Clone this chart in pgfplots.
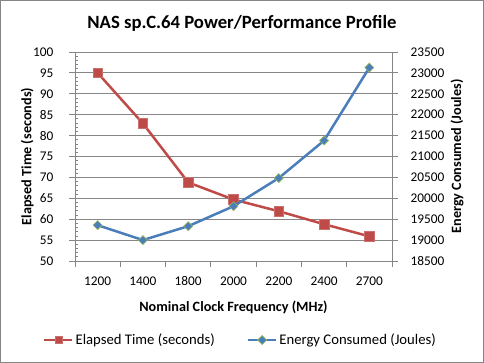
\documentclass[border=0pt]{standalone}
\usepackage{fontspec}
\setmainfont{Carlito}
\usepackage{pgfplots}
\pgfplotsset{compat=1.18}
\definecolor{axgray}{HTML}{868686}
\definecolor{cred}{HTML}{BE4B48}
\definecolor{cblue}{HTML}{4A7EBB}
\definecolor{cgreen}{HTML}{9BBB59}
\newcommand{\tsz}{\fontsize{13.3}{16}\selectfont}
\newcommand{\lsz}{\fontsize{14.2}{17}\selectfont\bfseries}
\pgfplotsset{
 common/.style={
  scale only axis, width=317pt, height=209pt, at={(75pt,102pt)}, anchor=south west,
  xmin=-0.5, xmax=6.5,
  tick align=outside, major tick length=6pt, minor tick length=3pt,
  every tick/.style={axgray, line width=0.8pt},
  axis line style={axgray, line width=0.8pt},
  tick label style={font=\tsz, text=black},
  /pgf/number format/assume math mode=true,
  /pgf/number format/set thousands separator={},
  scaled y ticks=false,
  clip=false,
 },
}
\begin{document}
\begin{tikzpicture}
\useasboundingbox (0pt,0pt) rectangle (484pt,363pt);
\draw[axgray, line width=0.8pt] (0.5pt,0.5pt) rectangle (483.5pt,362.5pt);
\node[font=\fontsize{18.7}{22}\selectfont\bfseries] at (242pt,340pt) {NAS sp.C.64 Power/Performance Profile};
\begin{axis}[common,
  axis x line*=bottom, axis y line*=left,
  ymin=50, ymax=100, ytick={50,55,...,100}, minor y tick num=4,
  minor y tick style={xshift=3pt},
  ymajorgrids, major grid style={axgray, line width=0.8pt},
  xtick={-0.5,0.5,...,6.5},
  xticklabels={1200,1400,1800,2000,2200,2400,2700,{}},
  xticklabel style={xshift=22.64pt, yshift=-6pt},
  yticklabel style={xshift=-12pt},
  xlabel={Nominal Clock Frequency (MHz)},
  ylabel={Elapsed Time (seconds)},
  xlabel style={at={(axis description cs:0.5,-0.22)}, anchor=center, font=\lsz},
  ylabel style={at={(axis description cs:-0.151,0.5)}, anchor=center, font=\lsz},
]
\addplot[cred, line width=2.5pt, mark=square*, mark size=4.8pt,
  mark options={fill=cred, draw=cred!80!white, line width=0.5pt}]
  coordinates {(0,95) (1,82.9) (2,68.8) (3,64.7) (4,61.9) (5,58.8) (6,55.9)};
\end{axis}
\begin{axis}[common,
  axis x line=none, axis y line*=right,
  ymin=18500, ymax=23500, ytick={18500,19000,...,23500},
  yticklabel style={xshift=9pt},
  ylabel={Energy Consumed (Joules)},
  ylabel style={at={(axis description cs:1.205,0.5)}, anchor=center, font=\lsz},
  legend style={at={(0.522,-0.378)}, anchor=center, draw=none, fill=none,
    legend columns=2, font=\fontsize{14.7}{17}\selectfont, legend cell align=left,
    /tikz/every even column/.append style={column sep=30pt}},
  legend image code/.code={\draw[#1, mark repeat=2, mark phase=2] plot coordinates {(0pt,0pt) (14pt,0pt) (28pt,0pt)};},
]
\addlegendimage{cred, line width=2.5pt, mark=square*, mark size=3.5pt,
  mark options={fill=cred, draw=cred!80!white, line width=0.5pt}}
\addlegendentry{Elapsed Time (seconds)}
\addplot[cblue, line width=2.5pt, mark=square*, mark size=3.2pt,
  mark options={rotate=45, fill=cblue, draw=cgreen, line width=0.6pt}]
  coordinates {(0,19357) (1,19000) (2,19333) (3,19810) (4,20484) (5,21381) (6,23127)};
\addlegendentry{Energy Consumed (Joules)}
\end{axis}
\end{tikzpicture}
\end{document}
